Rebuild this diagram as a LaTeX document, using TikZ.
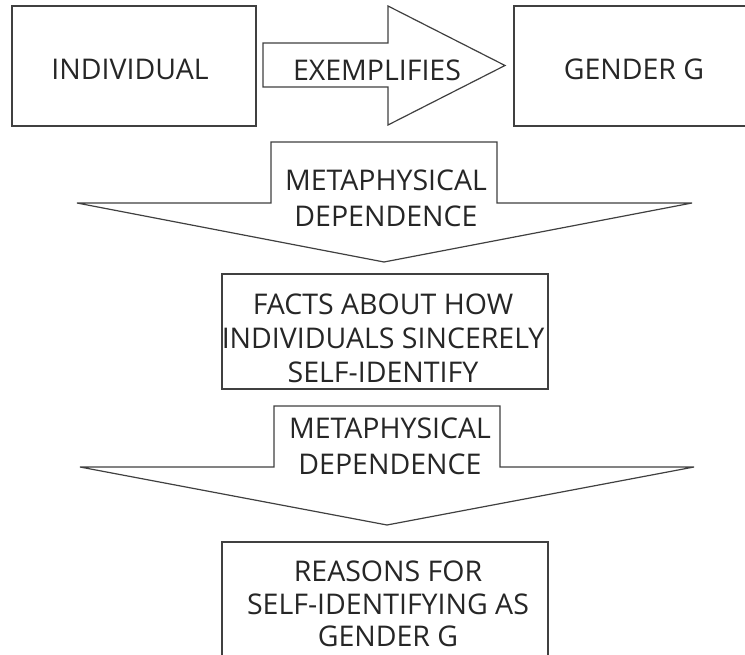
\documentclass[tikz,border=0pt]{standalone}
\usepackage{fontspec}
\setmainfont{Open Sans}
\begin{document}
\begin{tikzpicture}[x=1pt, y=-1pt,
  shape line/.style={draw=black!75, line width=1.2pt, fill=white, line join=miter},
  lbl/.style={inner sep=0pt, text=black!85, align=center,
    font=\fontsize{28.5}{34}\selectfont},
  lblwide/.style={lbl, font=\fontsize{28.5}{36}\selectfont},
  lbltight/.style={lbl, font=\fontsize{28.5}{32.5}\selectfont}]
\useasboundingbox (0,0) rectangle (745,655);
\clip (0,0) rectangle (745,655);

% top row: two boxes joined by a block arrow
\draw[shape line] (12,6) rectangle (256,126);
\draw[shape line] (514,6) rectangle (770,126);
\draw[shape line] (263,43) -- (388,43) -- (388,6) -- (505,65.5)
  -- (388,125) -- (388,87) -- (263,87) -- cycle;
\node[lbl] (ind) at (130,69) {INDIVIDUAL};
\node[lbl] (ex)  at (377,70) {EXEMPLIFIES};
\node[lbl] (gen) at (634,69) {GENDER G};

% first downward block arrow
\draw[shape line] (271,142) -- (497,142) -- (497,203) -- (692,203)
  -- (384,262) -- (77,203) -- (271,203) -- cycle;
\node[lblwide] (dep1) at (386,198) {METAPHYSICAL\\DEPENDENCE};

% facts box
\draw[shape line] (222,274) rectangle (548,389);
\node[lbl] (facts) at (383,338) {FACTS ABOUT HOW\\INDIVIDUALS SINCERELY\\SELF-IDENTIFY};

% second downward block arrow
\draw[shape line] (274,406) -- (500,406) -- (500,467) -- (694,467)
  -- (387,525) -- (80,467) -- (274,467) -- cycle;
\node[lblwide] (dep2) at (390,446) {METAPHYSICAL\\DEPENDENCE};

% reasons box
\draw[shape line] (222,542) rectangle (548,680);
\node[lbltight] (reasons) at (388,604) {REASONS FOR\\SELF-IDENTIFYING AS\\GENDER G};
\end{tikzpicture}
\end{document}
